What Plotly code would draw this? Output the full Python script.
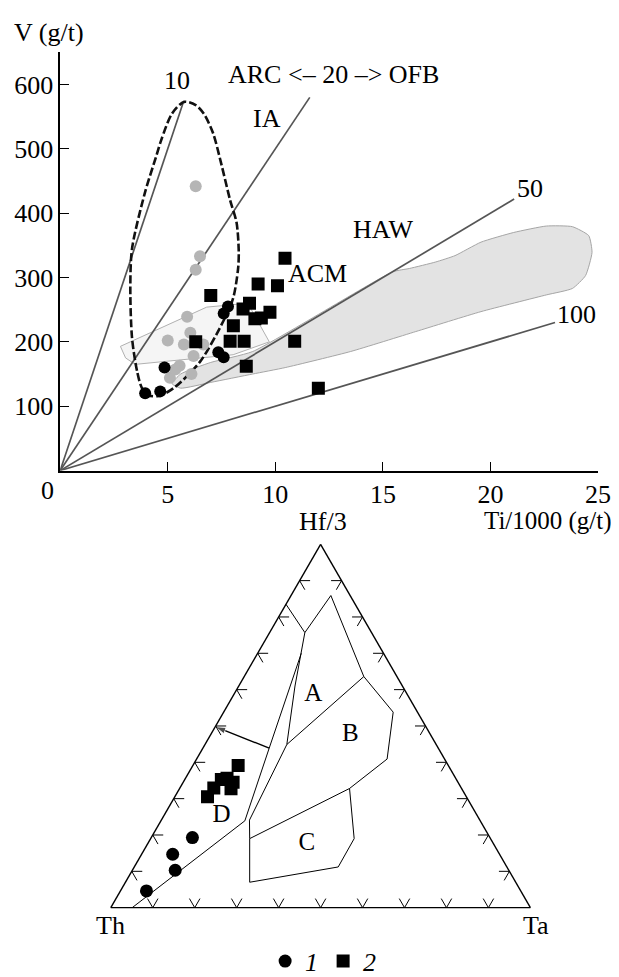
import plotly.graph_objects as go

# ---------------- Top diagram: V vs Ti/1000 ----------------
ratio_values = [10, 20, 50, 100]
ratio_line_end_x = [5.7, 11.6, 21.1, 23.0]

# reference (grey) circles
grey_x = [6.3, 6.5, 6.3, 5.9, 5.0, 6.05, 5.75, 6.65, 6.2, 5.55, 6.1, 5.1, 5.35]
grey_v = [442, 333, 312, 239, 202, 214, 196, 196, 178, 163, 150, 144, 157]

# group 1 (circles)
g1_x = [3.95, 4.65, 4.85, 7.8, 7.6, 7.35, 7.6]
g1_v = [120, 123, 160, 255, 244, 184, 176]

# group 2 (squares)
g2_x = [10.45, 9.2, 10.1, 7.0, 8.8, 8.5, 9.75, 9.35, 9.05, 8.05, 6.3, 7.9, 8.55, 10.9, 8.65, 12.0]
g2_v = [330, 290, 287, 272, 260, 251, 246, 237, 236, 225, 200, 201, 201, 201, 162, 128]

# dashed field outline
loop_x = [3.79, 3.57, 3.34, 3.26, 3.34, 3.94, 4.46, 4.70, 5.2, 5.76, 6.3, 6.67, 7.1, 7.5, 7.9, 8.2,
          8.3, 8.27, 8.04, 7.58, 6.52, 5.31, 4.6, 4.1, 3.79]
loop_v = [129, 155, 206, 283, 345, 432, 488, 514, 555, 573, 568, 555, 525, 475, 420, 385,
          340, 314, 268, 232, 170, 129, 116, 117, 129]

# grey shaded field
band_x = [5.2, 5.6, 7.0, 8.95, 15.47, 16.23, 17.44, 18.35, 19.56, 21.08, 22.6, 23.81, 24.57, 24.72,
          24.42, 23.81, 22.6, 19.56, 16.53, 13.5, 10.46, 8.95, 7.0, 5.6, 5.2]
band_v = [135, 150, 168, 185, 309, 314, 324, 334, 355, 370, 380, 379, 365, 339,
          303, 283, 273, 247, 216, 185, 160, 150, 137, 128, 135]

# thin outlined field
pent_x = [2.80, 6.81, 8.72, 9.72, 8.04, 3.49, 3.04, 2.80]
pent_v = [193, 254, 260, 200, 180, 165, 175, 193]

x_ticks = [5, 10, 15, 20, 25]
y_ticks = [100, 200, 300, 400, 500, 600]

# ---------------- Ternary diagram: Hf/3 - Th - Ta (percent) ----------------
# boundary polylines (Hf/3, Th, Ta)
field_outer = [(83.5, 16.5, 0), (75.7, 15.9, 8.4), (85.9, 4.6, 9.5), (63.6, 7.9, 28.5), (53.8, 5.8, 40.4),
               (40.9, 13.7, 45.4), (32.8, 26.7, 40.5), (19.0, 32.5, 48.5), (11.2, 40.2, 48.6),
               (7.0, 63.4, 29.6), (19.0, 57.4, 23.6), (24.1, 54.9, 21.0), (44.9, 35.6, 19.5),
               (61.0, 25.6, 13.4), (75.7, 15.9, 8.4)]
field_ab = [(63.6, 7.9, 28.5), (44.9, 35.6, 19.5)]
field_bc = [(32.8, 26.7, 40.5), (19.0, 57.4, 23.6)]
field_d = [(0, 94.9, 5.1), (23.9, 56.1, 20.0), (43.9, 40.3, 15.8), (70.0, 19.6, 10.4)]
arrow_pts = [(43.9, 40.3, 15.8), (49.8, 50.2, 0)]

t1 = [(4.6, 89.2, 6.2), (10.3, 79.5, 10.2), (14.7, 77.9, 7.4), (19.3, 70.9, 9.8)]
t2 = [(39.1, 50.1, 10.8), (35.3, 56.0, 8.7), (35.6, 54.5, 9.9), (34.5, 53.6, 11.9),
      (32.9, 59.0, 8.1), (30.5, 61.7, 7.8), (32.7, 55.0, 12.3)]

field_labels = ["A", "B", "C", "D"]
field_label_pos = [(58.7, 22.4, 18.9), (47.6, 19.1, 33.3), (17.7, 44.4, 37.9), (25.2, 61.0, 13.8)]

tick_steps = [10, 20, 30, 40, 50, 60, 70, 80, 90]

FONT = "Liberation Serif"
FS = 26
LINE_GREY = "#555555"

fig = go.Figure()

# shaded field
fig.add_trace(go.Scatter(x=band_x, y=band_v, mode="lines", fill="toself",
                         fillcolor="#e3e3e3", line=dict(color="#a5a5a5", width=1, shape="spline", smoothing=0.5),
                         hoverinfo="skip", showlegend=False))
fig.add_trace(go.Scatter(x=pent_x, y=pent_v, mode="lines", fill="toself",
                         fillcolor="rgba(235,235,235,0.5)", line=dict(color="#b0b0b0", width=1),
                         hoverinfo="skip", showlegend=False))

# ratio lines from origin
for r, xe in zip(ratio_values, ratio_line_end_x):
    fig.add_trace(go.Scatter(x=[0, xe], y=[0, xe * 1000 / r], mode="lines",
                             line=dict(color=LINE_GREY, width=1.7), hoverinfo="skip", showlegend=False))

# dashed outline
fig.add_trace(go.Scatter(x=loop_x, y=loop_v, mode="lines",
                         line=dict(color="#111111", width=2.6, dash="8px,3px", shape="spline", smoothing=0.8),
                         hoverinfo="skip", showlegend=False))

fig.add_trace(go.Scatter(x=grey_x, y=grey_v, mode="markers",
                         marker=dict(symbol="circle", size=12, color="#b5b5b5"), showlegend=False))
fig.add_trace(go.Scatter(x=g1_x, y=g1_v, mode="markers",
                         marker=dict(symbol="circle", size=12, color="black"), showlegend=False))
fig.add_trace(go.Scatter(x=g2_x, y=g2_v, mode="markers",
                         marker=dict(symbol="square", size=13, color="black"), showlegend=False))

# ---------------- ternary traces ----------------
def tern_line(pts, width=1.0, color="black"):
    return go.Scatterternary(a=[p[0] for p in pts], b=[p[1] for p in pts], c=[p[2] for p in pts],
                             mode="lines", line=dict(color=color, width=width),
                             hoverinfo="skip", showlegend=False)

for path in (field_outer, field_ab, field_bc, field_d):
    fig.add_trace(tern_line(path, width=1.0))

# arrow
fig.add_trace(go.Scatterternary(a=[p[0] for p in arrow_pts], b=[p[1] for p in arrow_pts],
                                c=[p[2] for p in arrow_pts], mode="lines+markers",
                                line=dict(color="black", width=1.4),
                                marker=dict(symbol="arrow", size=[0, 11], color="black", angleref="previous"),
                                hoverinfo="skip", showlegend=False))

# chevron ticks along the sides
L = 2.5
ta, tb, tc = [], [], []
for t in tick_steps:
    # left side (Ta = 0)
    for arm in [(t, 100 - t - L, L), (t - L, 100 - t, L)]:
        ta += [arm[0], t, None]; tb += [arm[1], 100 - t, None]; tc += [arm[2], 0, None]
    # bottom side (Hf = 0)
    for arm in [(L, 100 - t - L, t), (L, 100 - t, t - L)]:
        ta += [arm[0], 0, None]; tb += [arm[1], 100 - t, None]; tc += [arm[2], t, None]
    # right side (Th = 0)
    for arm in [(t, L, 100 - t - L), (t - L, L, 100 - t)]:
        ta += [arm[0], t, None]; tb += [arm[1], 0, None]; tc += [arm[2], 100 - t, None]
fig.add_trace(go.Scatterternary(a=ta, b=tb, c=tc, mode="lines", line=dict(color="black", width=1),
                                connectgaps=False, hoverinfo="skip", showlegend=False))

fig.add_trace(go.Scatterternary(a=[p[0] for p in field_label_pos], b=[p[1] for p in field_label_pos],
                                c=[p[2] for p in field_label_pos], mode="text", text=field_labels,
                                textfont=dict(family=FONT, size=25, color="black"),
                                hoverinfo="skip", showlegend=False))

fig.add_trace(go.Scatterternary(a=[p[0] for p in t1], b=[p[1] for p in t1], c=[p[2] for p in t1],
                                mode="markers", name="1",
                                marker=dict(symbol="circle", size=13, color="black")))
fig.add_trace(go.Scatterternary(a=[p[0] for p in t2], b=[p[1] for p in t2], c=[p[2] for p in t2],
                                mode="markers", name="2",
                                marker=dict(symbol="square", size=13, color="black")))

W, H = 619, 977
tern_axis = dict(showgrid=False, showticklabels=False, ticks="", linecolor="black", linewidth=1.4,
                 min=0, title=dict(text=""))

annots = []
def pa(text, x, y, size=FS, xanchor="center", yanchor="middle", style="normal"):
    annots.append(dict(text=text, x=x / W, y=1 - y / H, xref="paper", yref="paper", showarrow=False,
                       xanchor=xanchor, yanchor=yanchor,
                       font=dict(family=FONT, size=size, color="black", style=style)))

def da(text, x, y, size=FS):
    annots.append(dict(text=text, x=x, y=y, xref="x", yref="y", showarrow=False,
                       font=dict(family=FONT, size=size, color="black")))

pa("V (g/t)", 4, 25, xanchor="left")
pa("Ti/1000 (g/t)", 619, 518, size=25, xanchor="right")
pa("0", 40, 487)
da("10", 5.45, 606)
da("ARC <– 20 –> OFB", 12.7, 616)
da("IA", 9.63, 547)
da("HAW", 15.0, 374)
da("ACM", 11.95, 307)
da("50", 21.85, 439)
da("100", 24.0, 242)
pa("Hf/3", 321.7, 519)
pa("Th", 105, 926.5)
pa("Ta", 539.5, 926.5)

fig.update_layout(
    width=W, height=H, margin=dict(l=0, r=0, t=0, b=0),
    paper_bgcolor="white", plot_bgcolor="white",
    font=dict(family=FONT, color="black", size=FS),
    xaxis=dict(domain=[53.3 / W, 602.7 / W], range=[0, 25], showline=True, linecolor="black", linewidth=1.5,
               ticks="inside", ticklen=9, tickwidth=1.3, tickcolor="black", tickvals=x_ticks,
               showgrid=False, zeroline=False, tickfont=dict(family=FONT, size=FS)),
    yaxis=dict(domain=[(H - 467.3) / H, (H - 44.8) / H], range=[0, 650], showline=True, linecolor="black",
               linewidth=1.5, ticks="inside", ticklen=9, tickwidth=1.3, tickcolor="black", tickvals=y_ticks,
               showgrid=False, zeroline=False, tickfont=dict(family=FONT, size=FS)),
    ternary=dict(sum=100, domain=dict(x=[105 / W, 533.6 / W], y=[66 / H, (66 + 371.2) / H]),
                 bgcolor="white", aaxis=tern_axis, baxis=tern_axis, caxis=tern_axis),
    legend=dict(orientation="h", x=0.52, xanchor="center", y=14 / H, yanchor="middle",
                font=dict(family=FONT, size=FS, style="italic"), itemwidth=30, bgcolor="rgba(0,0,0,0)"),
    annotations=annots,
)

fig.write_html("out.html")
